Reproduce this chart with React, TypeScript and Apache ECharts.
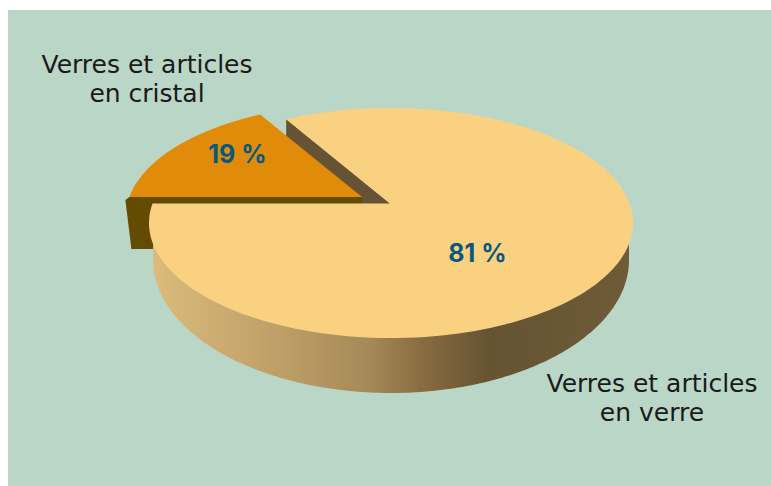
import React, { useEffect, useRef } from "react";
import * as echarts from "echarts";

const categoryLines = [
  ["Verres et articles", "en cristal"],
  ["Verres et articles", "en verre"],
];
const shares = [19, 81];
const shareLabels = ["19 %", "81 %"];

const W = 771;
const H = 486;
const SWEEP_START = 180;
const RAY_SQUASH = 0.321;

type Pt = [number, number];
interface Disc { cx: number; cy: number; rx: number; ry: number; ax: number; ay: number }

const mainDisc: Disc = { cx: 391, cy: 223, rx: 242, ry: 115, ax: 390, ay: 203.5 };
const crystalDisc: Disc = { cx: 363, cy: 216, rx: 237, ry: 112.7, ax: 362, ay: 197 };

// Where a ray leaving the apex at pie angle deg meets the rim of the tilted disc.
function rim(d: Disc, deg: number): Pt {
  const t = (deg * Math.PI) / 180;
  const dx = Math.cos(t);
  const dy = -RAY_SQUASH * Math.sin(t);
  const px = (d.ax - d.cx) / d.rx;
  const py = (d.ay - d.cy) / d.ry;
  const qx = dx / d.rx;
  const qy = dy / d.ry;
  const a = qx * qx + qy * qy;
  const b = 2 * (px * qx + py * qy);
  const c = px * px + py * py - 1;
  const s = (-b + Math.sqrt(b * b - 4 * a * c)) / (2 * a);
  return [d.ax + s * dx, d.ay + s * dy];
}

function slice(d: Disc, fromDeg: number, toDeg: number): Pt[] {
  const pts: Pt[] = [[d.ax, d.ay]];
  const n = 240;
  for (let i = 0; i <= n; i++) pts.push(rim(d, fromDeg + ((toDeg - fromDeg) * i) / n));
  return pts;
}

function bottomArc(): Pt[] {
  const pts: Pt[] = [[153, 235]];
  for (let i = 0; i <= 180; i++) {
    const t = (i * Math.PI) / 180;
    pts.push([391 - 238 * Math.cos(t), 260 + 133 * Math.sin(t)]);
  }
  pts.push([629, 235]);
  return pts;
}

function poly(points: Pt[], fill: any) {
  return { type: "polygon", shape: { points }, style: { fill }, silent: true };
}

export default function App() {
  const ref = useRef<HTMLDivElement>(null);

  useEffect(() => {
    const chart = echarts.init(ref.current!, null, { renderer: "svg", width: W, height: H });
    const total = shares[0] + shares[1];
    const crystalSweep = (shares[0] / total) * 360;
    const mainSweep = (shares[1] / total) * 360;
    const crystalEnd = SWEEP_START - crystalSweep;
    const mainEnd = crystalEnd - mainSweep;

    const textStyle = (text: string, x: number, y: number) => ({
      type: "text",
      silent: true,
      style: {
        text,
        x,
        y,
        fill: "#1a1a1a",
        font: '400 25px "DejaVu Sans", sans-serif',
        align: "center",
        verticalAlign: "middle",
        lineHeight: 29,
      },
    });
    const valueStyle = (text: string, x: number, y: number) => ({
      type: "text",
      silent: true,
      style: {
        text,
        x,
        y,
        fill: "#08587f",
        font: '700 25px Inter, sans-serif',
        align: "center",
        verticalAlign: "middle",
      },
    });

    const notch = () => {
      const e = rim(mainDisc, crystalEnd);
      return poly(
        [e, [mainDisc.ax, mainDisc.ay], [mainDisc.ax, mainDisc.ay + 50], [e[0], e[1] + 50]],
        "#655333"
      );
    };
    const crystal = () => {
      const s = rim(crystalDisc, SWEEP_START);
      return {
        type: "group",
        children: [
          poly(
            [
              s,
              [crystalDisc.ax, crystalDisc.ay],
              [crystalDisc.ax, crystalDisc.ay + 52],
              [s[0] + 2, crystalDisc.ay + 52],
              [s[0] - 4, s[1] + 3],
            ],
            "#634b02"
          ),
          poly(slice(crystalDisc, SWEEP_START, crystalEnd), "#e08c0a"),
          valueStyle(shareLabels[0], 237.5, 153.5),
          textStyle(categoryLines[0].join("\n"), 147, 79),
        ],
      };
    };
    const main = () => ({
      type: "group",
      children: [
        poly(
          bottomArc(),
          new echarts.graphic.LinearGradient(0, 0, 1, 0, [
            { offset: 0, color: "#dcbb7c" },
            { offset: 0.3, color: "#b99b64" },
            { offset: 0.45, color: "#a68a58" },
            { offset: 0.58, color: "#85693f" },
            { offset: 0.71, color: "#655331" },
            { offset: 1, color: "#6f5b38" },
          ])
        ),
        poly(slice(mainDisc, crystalEnd, mainEnd), "#f9d181"),
        valueStyle(shareLabels[1], 477.5, 253),
        textStyle(categoryLines[1].join("\n"), 652, 397.5),
      ],
    });

    const layer = (render: () => any, value: number) => ({
      type: "custom",
      coordinateSystem: "none",
      data: [value],
      renderItem: render,
      silent: true,
    });

    chart.setOption({
      animation: false,
      backgroundColor: "#ffffff",
      graphic: [
        {
          type: "rect",
          z: -10,
          shape: { x: 8, y: 10, width: W - 8, height: H - 10 },
          style: { fill: "#bad6c6" },
        },
      ],
      series: [layer(notch, shares[1]), layer(crystal, shares[0]), layer(main, shares[1])],
    });
    return () => chart.dispose();
  }, []);

  return (
    <div
      ref={ref}
      style={{ position: "fixed", left: 0, top: 0, width: W, height: H }}
    />
  );
}
